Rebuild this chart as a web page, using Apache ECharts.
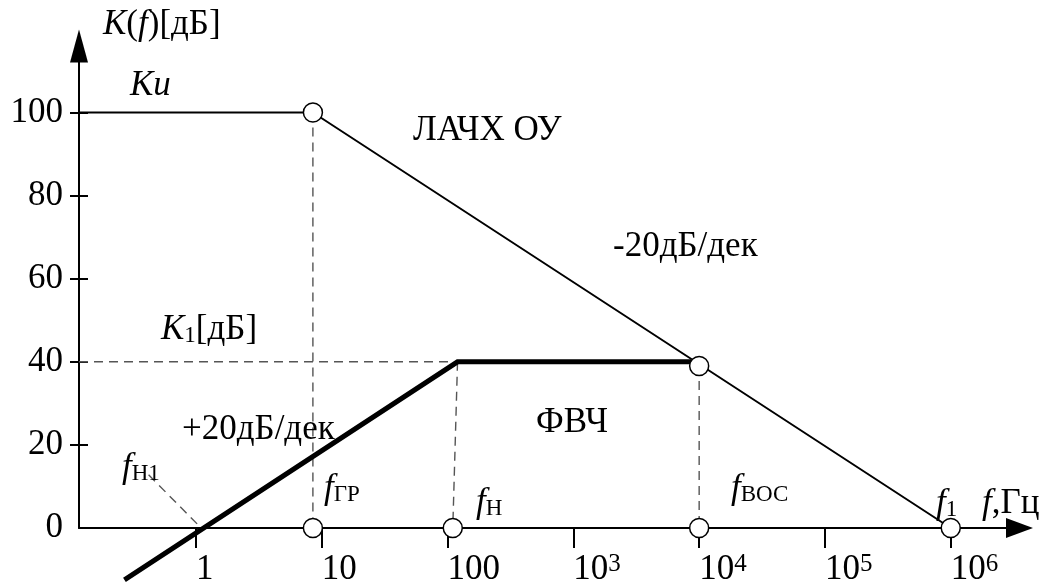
<!DOCTYPE html>
<html>
<head>
<meta charset="utf-8">
<script src="https://cdn.jsdelivr.net/npm/echarts@6/dist/echarts.min.js"></script>
<style>
  html, body { margin: 0; padding: 0; background: #fff; }
  #chart { width: 1053px; height: 585px; }
</style>
</head>
<body>
<div id="chart"></div>
<script>
// Decades marked on the frequency axis and their labels
const freqTicks = [1, 10, 100, 1e3, 1e4, 1e5, 1e6];
const freqTickLabels = ['1', '10', '100', '10{sup|3}', '10{sup|4}', '10{sup|5}', '10{sup|6}'];
// Gain axis: labelled values and tick marks
const gainLabels = [0, 20, 40, 60, 80, 100];
const gainTicks = [20, 40, 60, 80, 100];

// Asymptotic open-loop response of the op-amp, [f, dB]
const opAmpCurve = [[0.1175, 100], [8.5, 100], [1e6, 0]];
// High-pass filter response, [f, dB]
const hpfCurve = [[0.27, -12.5], [120, 40], [1e4, 40]];

// Dashed construction lines, [f, dB]
const guideFgr = [[8.5, 100], [8.5, 0]];
const guideK1 = [[0.1175, 40], [120, 40]];
const guideFn = [[120, 40], [110, 0]];
const guideFvos = [[1e4, 39], [1e4, 0]];
const leaderFn1 = [[0.42, 12.8], [1.1, 0]];

// Characteristic frequencies (open circles), [f, dB]
const keyPoints = [[8.5, 100], [8.5, 0], [110, 0], [1e4, 39], [1e4, 0], [1e6, 0]];

const SERIF = 'Liberation Serif';
const FS = 35;
const SUB = 23;

const richText = {
  i: { fontStyle: 'italic', fontSize: FS, fontFamily: SERIF, fill: '#000' },
  s: { fontSize: SUB, fontFamily: SERIF, fill: '#000', verticalAlign: 'bottom' }
};

function note(x, y, text) {
  return {
    type: 'text',
    x: x,
    y: y,
    z: 10,
    style: {
      text: text,
      fontSize: FS,
      fontFamily: SERIF,
      fill: '#000',
      align: 'left',
      verticalAlign: 'middle',
      rich: richText
    }
  };
}

const dashed = { color: '#555', width: 1.4, type: [9, 6] };

function guide(data) {
  return {
    type: 'line',
    data: data,
    symbol: 'none',
    clip: false,
    silent: true,
    z: 1,
    lineStyle: dashed
  };
}

const chart = echarts.init(document.getElementById('chart'), null, { renderer: 'canvas' });

chart.setOption({
  backgroundColor: '#fff',
  animation: false,
  grid: { left: 79, right: 33.5, top: 46, bottom: 57, containLabel: false, outerBoundsMode: 'none' },
  xAxis: {
    type: 'log',
    logBase: 10,
    min: 0.1175,
    max: 3.52e6,
    axisLine: {
      lineStyle: { color: '#000', width: 2 },
      symbol: ['none', 'triangle'],
      symbolSize: [20, 27]
    },
    axisTick: {
      length: 20,
      lineStyle: { color: '#000', width: 2 },
      customValues: freqTicks
    },
    axisLabel: {
      customValues: freqTicks,
      align: 'left',
      margin: 24,
      color: '#000',
      fontSize: FS,
      fontFamily: SERIF,
      formatter: function (v) {
        const k = Math.round(Math.log10(v));
        return freqTickLabels[k] !== undefined ? freqTickLabels[k] : '';
      },
      rich: {
        sup: { fontSize: 25, fontFamily: SERIF, color: '#000', verticalAlign: 'top', padding: [0, 0, 8, 0] }
      }
    },
    splitLine: { show: false }
  },
  yAxis: [{
    type: 'value',
    min: 0,
    max: 116,
    position: 'left',
    axisLine: {
      show: true,
      lineStyle: { color: '#000', width: 2 },
      symbol: ['none', 'triangle'],
      symbolSize: [18, 33]
    },
    axisTick: {
      show: true,
      length: 9,
      lineStyle: { color: '#000', width: 2 },
      customValues: gainTicks
    },
    axisLabel: {
      customValues: gainLabels,
      margin: 16,
      color: '#000',
      fontSize: FS,
      fontFamily: SERIF
    },
    splitLine: { show: false }
  }, {
    type: 'value',
    min: 0,
    max: 116,
    position: 'left',
    axisLine: { show: false },
    axisTick: {
      show: true,
      inside: true,
      length: 9,
      lineStyle: { color: '#000', width: 2 },
      customValues: gainTicks
    },
    axisLabel: { show: false },
    splitLine: { show: false }
  }],
  series: [
    guide(guideFgr),
    guide(guideK1),
    guide(guideFn),
    guide(guideFvos),
    guide(leaderFn1),
    {
      name: 'ЛАЧХ ОУ',
      type: 'line',
      data: opAmpCurve,
      symbol: 'none',
      clip: false,
      z: 3,
      lineStyle: { color: '#000', width: 2 }
    },
    {
      name: 'ФВЧ',
      type: 'line',
      data: hpfCurve,
      symbol: 'none',
      clip: false,
      z: 4,
      lineStyle: { color: '#000', width: 5, join: 'miter' }
    },
    {
      type: 'scatter',
      data: keyPoints,
      symbol: 'circle',
      symbolSize: 19,
      clip: false,
      z: 6,
      itemStyle: { color: '#fff', borderColor: '#000', borderWidth: 1.5, opacity: 1 }
    }
  ],
  graphic: [
    note(103, 25, '{i|K}({i|f})[дБ]'),
    note(130, 86, '{i|Ku}'),
    note(413, 131, 'ЛАЧХ ОУ'),
    note(613, 247, '-20дБ/дек'),
    note(161, 330, '{i|K}{s|1}[дБ]'),
    note(182, 430, '+20дБ/дек'),
    note(122, 468, '{i|f}{s|Н1}'),
    note(324, 489, '{i|f}{s|ГР}'),
    note(536, 423, 'ФВЧ'),
    note(476, 503, '{i|f}{s|Н}'),
    note(731, 489, '{i|f}{s|ВОС}'),
    note(936, 504, '{i|f}{s|1}'),
    note(982, 504, '{i|f},Гц')
  ]
});
</script>
</body>
</html>
